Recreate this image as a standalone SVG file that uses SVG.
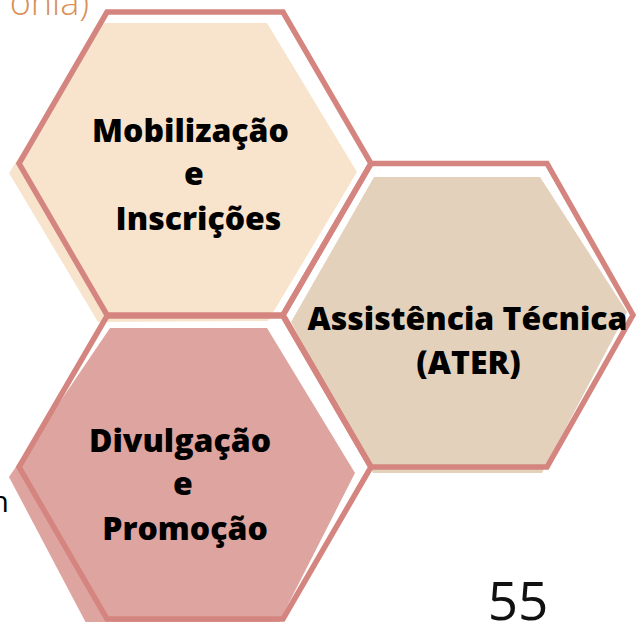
<svg xmlns="http://www.w3.org/2000/svg" width="636" height="622" viewBox="0 0 636 622">
<style>
.edge{fill:none;stroke:#d5857f;stroke-width:5.5;stroke-linejoin:miter}
.lbl{font-family:"Open Sans","Liberation Sans",sans-serif;font-weight:800;font-size:32px;fill:#000;text-anchor:middle}
.side{font-family:"Open Sans","Liberation Sans",sans-serif}
</style>
<rect width="636" height="622" fill="#ffffff"/>
<text class="side" x="89" y="15" font-size="36" font-weight="300" fill="#d98f57" text-anchor="end">onia)</text>
<text class="side" x="9" y="512" font-size="30" fill="#000" text-anchor="end">n</text>
<text class="side" x="518" y="620" font-size="53" fill="#111" text-anchor="middle">55</text>
<g id="node-mobilizacao">
<polygon points="104,23 267,23 357,172 268,321 98,322 9,173" fill="#f8e4cd"/>
</g>
<g id="node-assistencia">
<polygon points="374,177 540,177 627,312 542,473 373,473 291,322" fill="#e4d1bc"/>
</g>
<g id="node-divulgacao">
<polygon points="110,328 267,328 355,473 270,640 95,640 9,477" fill="#dea5a0"/>
</g>
<g id="outlines">
<polygon class="edge" points="107,12 283,12 371,163.5 283,315 107,315 19,163.5"/>
<polygon class="edge" points="371,163.5 547,163.5 633,315 547,467 371,467 283,315"/>
<polygon class="edge" points="107,316 283,316 371,467 283,619 107,619 19,467"/>
</g>
<g id="labels">
<text class="lbl" x="190.5" y="142">Mobilização</text>
<text class="lbl" x="194" y="185">e</text>
<text class="lbl" x="198.5" y="230">Inscrições</text>
<text class="lbl" x="467.5" y="330">Assistência Técnica</text>
<text class="lbl" x="468.5" y="374">(ATER)</text>
<text class="lbl" x="180" y="452">Divulgação</text>
<text class="lbl" x="183" y="495">e</text>
<text class="lbl" x="185" y="540">Promoção</text>
</g>
</svg>
